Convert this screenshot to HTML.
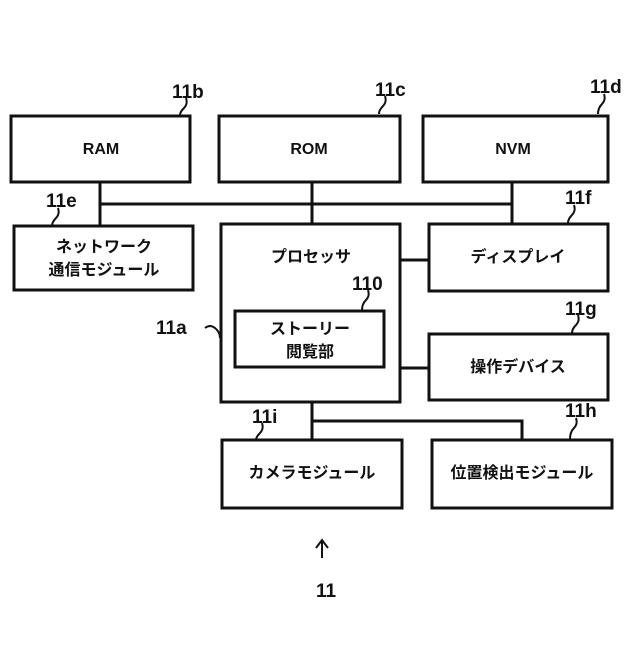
<!DOCTYPE html><html><head><meta charset="utf-8"><style>
body{margin:0;background:#fff}
svg text{font-family:"Liberation Sans","Noto Sans CJK JP",sans-serif;font-weight:bold;fill:#111}
</style></head><body>
<svg width="640" height="640" viewBox="0 0 640 640">
<g fill="none" stroke="#111" stroke-width="3">
<rect x="11" y="116" width="179" height="66"/>
<rect x="219" y="116" width="181" height="66"/>
<rect x="423" y="116" width="185" height="66"/>
<rect x="14" y="226" width="179" height="64"/>
<rect x="221" y="224" width="179" height="178"/>
<rect x="429" y="224" width="179" height="67"/>
<rect x="235" y="311" width="149" height="56"/>
<rect x="429" y="334" width="179" height="66"/>
<rect x="222" y="440" width="180" height="68"/>
<rect x="432" y="440" width="180" height="68"/>
<path d="M100 182V226M100 204H512M312 182V224M512 182V224M400 260H429M400 368H429M312 402V440M312 421H522V440"/>
</g>
<g fill="none" stroke="#111" stroke-width="2">
<path d="M186 98q2 6-2 10t-4 7M385 96q2 6-2 10t-4 8M604 94q2 6-2 10t-4 10M58 208q2 6-2 10t-4 8M574 205q2 6-2 10t-4 8M368 290q2 6-2 10t-4 10M578 315q2 6-2 10t-4 8M262 423q2 6-2 10t-4 7M576 418q2 6-2 10t-4 11M205 328q5-4 10 0t5 10"/>
<path d="M322 558V540M316 548L322 540L328 548"/>
</g>
<g font-size="19">
<text x="172" y="98">11b</text><text x="375" y="96">11c</text><text x="590" y="93">11d</text>
<text x="46" y="207">11e</text><text x="565" y="204">11f</text><text x="352" y="290">110</text>
<text x="156" y="334">11a</text><text x="565" y="315">11g</text><text x="252" y="423">11i</text>
<text x="565" y="417">11h</text><text x="316" y="597">11</text>
</g>
<g font-size="16" text-anchor="middle">
<text x="101" y="154">RAM</text><text x="309" y="154">ROM</text><text x="513" y="154">NVM</text>
<text x="104" y="252">ネットワーク</text><text x="104" y="275">通信モジュール</text>
<text x="311" y="262">プロセッサ</text>
<text x="518" y="262">ディスプレイ</text>
<text x="310" y="334">ストーリー</text><text x="310" y="357">閲覧部</text>
<text x="518" y="372">操作デバイス</text>
<text x="312" y="478">カメラモジュール</text><text x="522" y="478">位置検出モジュール</text>
</g>
</svg>
</body></html>
